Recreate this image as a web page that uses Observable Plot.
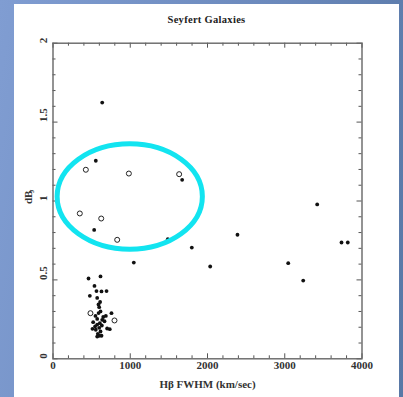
<!DOCTYPE html>
<html>
<head>
<meta charset="utf-8">
<script src="https://cdn.jsdelivr.net/npm/d3@7"></script>
<script src="https://cdn.jsdelivr.net/npm/@observablehq/plot@0.6"></script>
<style>
  html, body { margin: 0; padding: 0; }
  body {
    width: 403px; height: 397px; overflow: hidden; position: relative;
    background: linear-gradient(100deg, #809dd2 0%, #6a88bb 60%, #5878a6 100%);
  }
  #panel { position: absolute; left: 14px; top: 4px; width: 385px; height: 393px; background: #fff; }
  #title {
    position: absolute; left: 0; width: 385px; top: 10px; text-align: center;
    font: bold 10.5px "Liberation Serif", serif; color: #222; letter-spacing: 0.3px;
  }
  #chart { position: absolute; left: 0; top: 0; }
</style>
</head>
<body>
<div id="panel">
  <div id="chart"></div>
  <div id="title">Seyfert Galaxies</div>
</div>
<script>
// Filled points (Hβ FWHM km/s, dB_J)
const filledX = [637, 554, 1672, 533, 1486, 1797, 1046, 2035, 2388, 3045, 3239, 3420, 3735, 3816,
  460, 615, 537, 563, 628, 693, 477, 572, 589, 598, 615, 757, 550, 684, 572, 637, 667, 520, 606,
  572, 632, 701, 511, 554, 598, 735, 615, 580, 598, 628, 572, 610, 650, 545, 590];
const filledY = [1.624, 1.255, 1.134, 0.817, 0.758, 0.705, 0.610, 0.585, 0.786, 0.606, 0.496, 0.978, 0.737, 0.737,
  0.509, 0.522, 0.462, 0.429, 0.427, 0.429, 0.399, 0.386, 0.344, 0.327, 0.300, 0.289, 0.272, 0.272, 0.253, 0.247, 0.238, 0.232, 0.226,
  0.217, 0.211, 0.192, 0.190, 0.184, 0.196, 0.188, 0.173, 0.158, 0.146, 0.146, 0.141, 0.360, 0.265, 0.205, 0.290];
// Open circles
const openX = [425, 982, 1633, 347, 624, 831, 485, 796];
const openY = [1.198, 1.174, 1.170, 0.921, 0.889, 0.754, 0.289, 0.243];

const xMajor = [0, 1000, 2000, 3000, 4000];
const xLabels = ["0", "1000", "2000", "3000", "4000"];
const xMinor = [200, 400, 600, 800, 1200, 1400, 1600, 1800, 2200, 2400, 2600, 2800, 3200, 3400, 3600, 3800];
const yMajor = [0, 0.5, 1, 1.5, 2];
const yLabels = ["0", "0.5", "1", "1.5", "2"];
const yMinor = [0.1, 0.2, 0.3, 0.4, 0.6, 0.7, 0.8, 0.9, 1.1, 1.2, 1.3, 1.4, 1.6, 1.7, 1.8, 1.9];

// Highlight ellipse (data units)
const ellipseCenter = [1000, 1.025];
const ellipseRadii = [940, 0.334];

const filled = filledX.map((x, i) => ({x, y: filledY[i]}));
const open = openX.map((x, i) => ({x, y: openY[i]}));

const W = 385, H = 393, mL = 38.5, mR = 37.5, mT = 38.7, mB = 38.7;
const plotH = H - mT - mB;
const plotW = W - mL - mR;
const tickColor = "#555";
const font = "Liberation Serif";

const ellipseMark = (index, scales) => {
  const {x, y} = scales;
  const g = d3.create("svg:g");
  g.append("ellipse")
    .attr("cx", x(ellipseCenter[0]))
    .attr("cy", y(ellipseCenter[1]))
    .attr("rx", x(ellipseCenter[0] + ellipseRadii[0]) - x(ellipseCenter[0]))
    .attr("ry", y(ellipseCenter[1]) - y(ellipseCenter[1] + ellipseRadii[1]))
    .attr("fill", "none")
    .attr("stroke", "#12e4f0")
    .attr("stroke-width", 5);
  return g.node();
};

const chart = Plot.plot({
  width: W, height: H,
  marginLeft: mL, marginRight: mR, marginTop: mT, marginBottom: mB,
  style: {background: "transparent", fontFamily: font},
  x: {domain: [0, 4000], axis: null},
  y: {domain: [0, 2], axis: null},
  marks: [
    // bottom ticks
    Plot.tickX(xMinor, {x: d => d, insetTop: plotH - 3, stroke: tickColor}),
    Plot.tickX(xMajor, {x: d => d, insetTop: plotH - 5, stroke: tickColor}),
    // top ticks
    Plot.tickX(xMinor, {x: d => d, insetBottom: plotH - 3, stroke: tickColor}),
    Plot.tickX(xMajor, {x: d => d, insetBottom: plotH - 5, stroke: tickColor}),
    // left ticks
    Plot.tickY(yMinor, {y: d => d, insetRight: plotW - 3, stroke: tickColor}),
    Plot.tickY(yMajor, {y: d => d, insetRight: plotW - 5, stroke: tickColor}),
    // right ticks
    Plot.tickY(yMinor, {y: d => d, insetLeft: plotW - 3, stroke: tickColor}),
    Plot.tickY(yMajor, {y: d => d, insetLeft: plotW - 5, stroke: tickColor}),
    Plot.frame({stroke: "#666", strokeWidth: 1.4}),
    // tick labels
    Plot.text(xMajor, {x: d => d, text: (d, i) => xLabels[i], frameAnchor: "bottom", dy: 10,
      fontSize: 11, fontWeight: "bold", fill: "#333"}),
    Plot.text(yMajor, {y: d => d, text: (d, i) => yLabels[i], frameAnchor: "left", dx: -10, rotate: -90,
      fontSize: 11, fontWeight: "bold", fill: "#333"}),
    // axis labels
    Plot.text(["Hβ FWHM (km/sec)"], {text: d => d, frameAnchor: "bottom", dy: 29,
      fontSize: 11, fontWeight: "bold", fill: "#333"}),
    Plot.text(["dB"], {text: d => d, frameAnchor: "left", dx: -24.5, dy: 3, rotate: -90,
      fontSize: 11, fontWeight: "bold", fill: "#333"}),
    Plot.text(["J"], {text: d => d, frameAnchor: "left", dx: -21, dy: -8, rotate: -90,
      fontSize: 7, fontWeight: "bold", fill: "#333"}),
    // data
    Plot.dot(filled, {x: "x", y: "y", r: 1.9, fill: "#111", stroke: "none"}),
    Plot.dot(open, {x: "x", y: "y", r: 2.5, fill: "none", stroke: "#222", strokeWidth: 1}),
    ellipseMark
  ]
});
document.getElementById("chart").appendChild(chart);
</script>
</body>
</html>
